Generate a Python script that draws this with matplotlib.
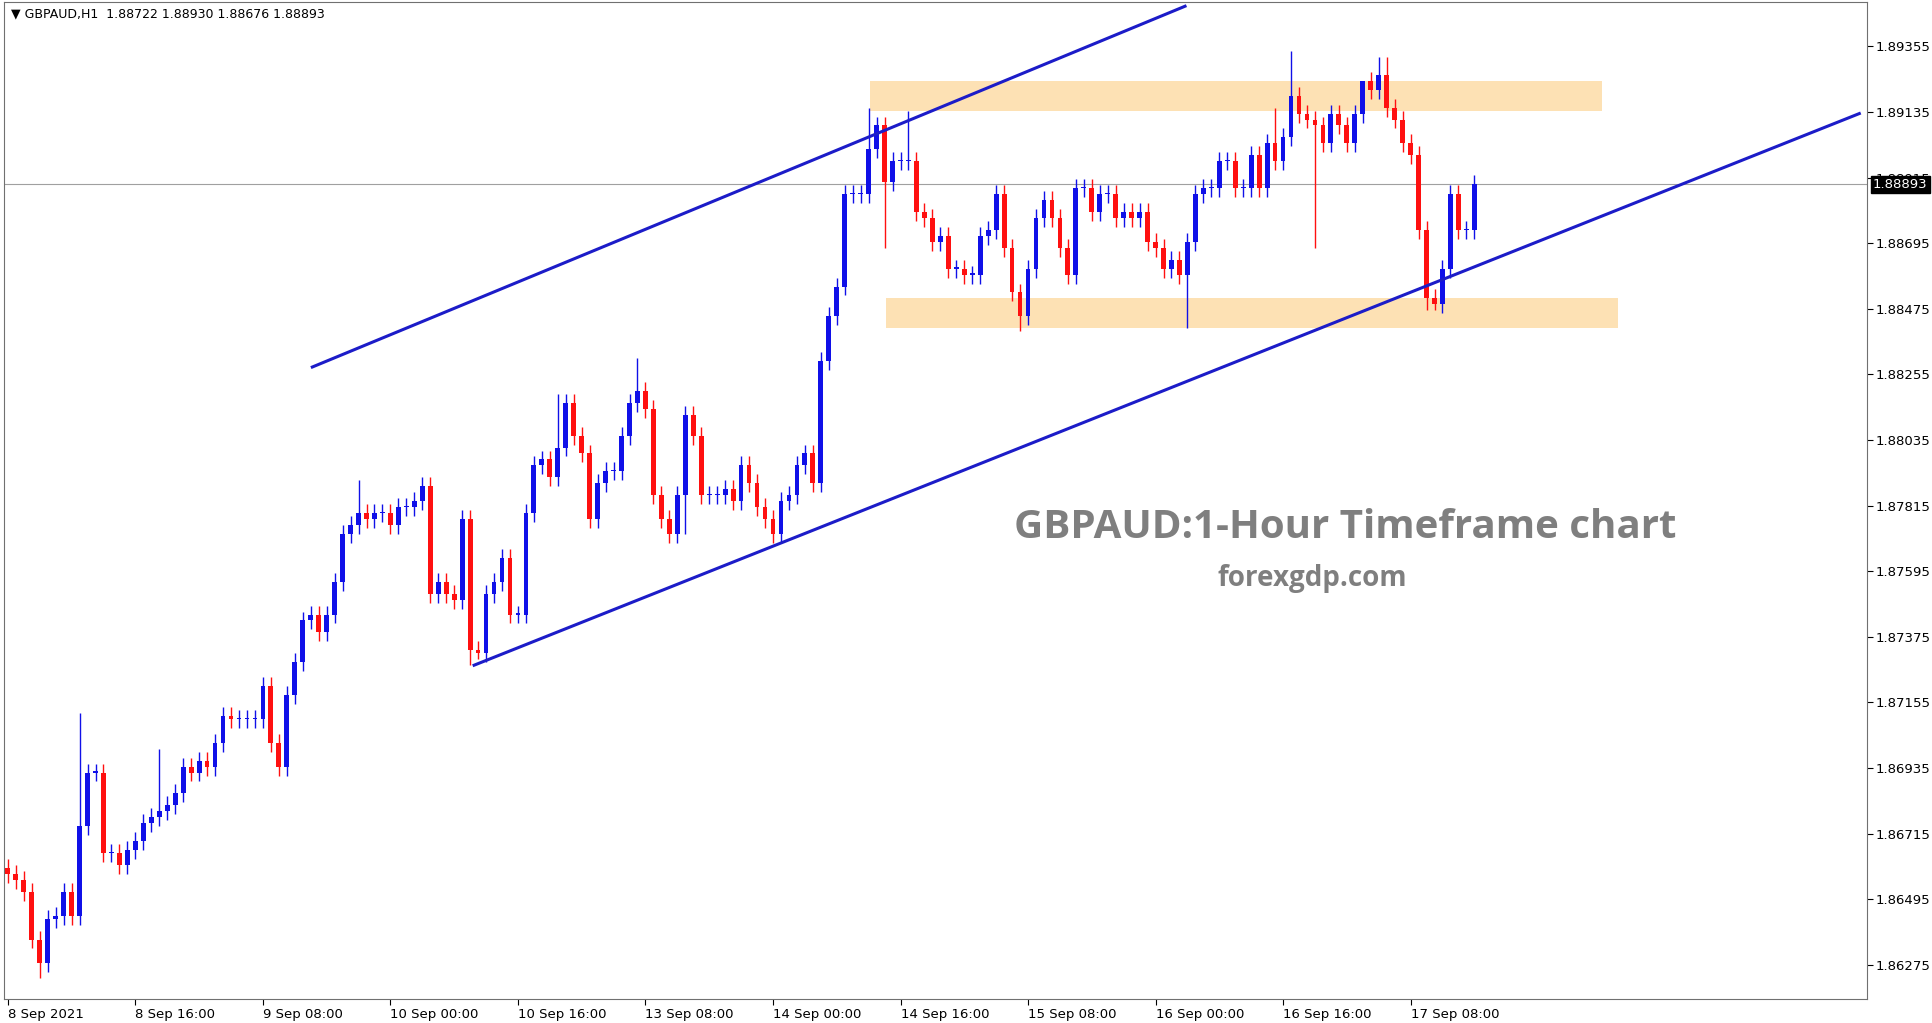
import matplotlib
matplotlib.use("Agg")
import matplotlib.pyplot as plt
from matplotlib.patches import Rectangle

closes = [1.8658,1.8656,1.8652,1.8636,1.8628,1.8643,1.8644,1.8652,1.8644,1.8674,
 1.8692,1.8692,1.8665,1.8665,1.8661,1.8666,1.8669,1.8675,1.8677,1.8679,
 1.8681,1.8685,1.8694,1.8692,1.8696,1.8694,1.8702,1.8711,1.8710,1.8710,
 1.8710,1.8710,1.8721,1.8702,1.8694,1.8718,1.8729,1.8743,1.8745,1.8739,
 1.8745,1.8756,1.8772,1.8775,1.8779,1.8777,1.8779,1.8779,1.8775,1.8781,
 1.8781,1.8783,1.8788,1.8752,1.8756,1.8752,1.8750,1.8777,1.8733,1.8732,
 1.8752,1.8756,1.8764,1.8745,1.8745,1.8779,1.8795,1.8797,1.8791,1.8801,
 1.8816,1.8805,1.8799,1.8777,1.8789,1.8793,1.8793,1.8805,1.8816,1.8820,
 1.8814,1.8785,1.8777,1.8772,1.8785,1.8812,1.8805,1.8785,1.8785,1.8785,
 1.8787,1.8783,1.8795,1.8789,1.8781,1.8777,1.8772,1.8783,1.8785,1.8795,
 1.8799,1.8789,1.8830,1.8845,1.8855,1.8886,1.8886,1.8886,1.8901,1.8909,
 1.8890,1.8897,1.8897,1.8897,1.8880,1.8878,1.8870,1.8872,1.8861,1.8861,
 1.8859,1.8859,1.8872,1.8874,1.8886,1.8868,1.8853,1.8845,1.8861,1.8878,
 1.8884,1.8878,1.8868,1.8859,1.8888,1.8888,1.8880,1.8886,1.8886,1.8878,
 1.8880,1.8878,1.8880,1.8870,1.8868,1.8861,1.8864,1.8859,1.8870,1.8886,
 1.8888,1.8888,1.8897,1.8897,1.8888,1.8888,1.8899,1.8888,1.8903,1.8897,
 1.8905,1.8919,1.8913,1.8911,1.8909,1.8903,1.8913,1.8909,1.8903,1.8913,
 1.8924,1.8921,1.8926,1.8915,1.8911,1.8903,1.8899,1.8874,1.8851,1.8849,
 1.8861,1.8886,1.8874,1.8874,1.88893]
spikes = {9: 1.8712, 19: 1.8700, 44: 1.8790, 69: 1.8819, 79: 1.8831, 108: 1.8915,
          113: 1.8914, 159: 1.8915, 161: 1.8934, 170: 1.8917, 172: 1.8932, 173: 1.8932}
dips = {4: 1.8623, 58: 1.8728, 59: 1.8730, 85: 1.8772, 110: 1.8868, 127: 1.8840,
        148: 1.8841, 164: 1.8868, 178: 1.8847, 179: 1.8847}
xlabels = ["8 Sep 2021","8 Sep 16:00","9 Sep 08:00","10 Sep 00:00","10 Sep 16:00",
           "13 Sep 08:00","14 Sep 00:00","14 Sep 16:00","15 Sep 08:00","16 Sep 00:00",
           "16 Sep 16:00","17 Sep 08:00"]
yticks = [1.89355,1.89135,1.88915,1.88695,1.88475,1.88255,1.88035,1.87815,1.87595,
          1.87375,1.87155,1.86935,1.86715,1.86495,1.86275]
upper_line = ([38.2, 147.7], [1.8828, 1.8949])
lower_line = ([58.5, 232.3], [1.8728, 1.8913])
top_zone = (108.2, 200.0, 1.8914, 1.8924)
bot_zone = (110.2, 202.0, 1.8841, 1.8851)
last_price = 1.88893

fig = plt.figure(figsize=(19.33, 10.23), dpi=100)
ax = fig.add_axes([0.002, 0.023, 0.964, 0.975])
ax.set_xlim(-0.5, 233.3)
ax.set_ylim(1.86159, 1.89504)

for z in (top_zone, bot_zone):
    ax.add_patch(Rectangle((z[0], z[2]), z[1]-z[0], z[3]-z[2], color="#fde1b4", zorder=1, lw=0))

prev = closes[0] + 0.0002
for i, c in enumerate(closes):
    o = prev
    hi = spikes.get(i, max(o, c) + 0.0003)
    lo = dips.get(i, min(o, c) - 0.0003)
    col = "#1010e8" if c >= o else "#ff1010"
    ax.vlines(i, lo, hi, color=col, lw=1, zorder=2)
    ax.add_patch(Rectangle((i-0.3, min(o, c)), 0.6, max(abs(c-o), 0.00004), color=col, zorder=3, lw=0))
    prev = c

ax.plot(*upper_line, color="#1c1cc8", lw=2.2, zorder=4)
ax.plot(*lower_line, color="#1c1cc8", lw=2.2, zorder=4)
ax.axhline(last_price, color="#a0a0a0", lw=0.8, zorder=1)

ax.yaxis.tick_right()
ax.set_yticks(yticks)
ax.set_yticklabels([f"{v:.5f}" for v in yticks], fontsize=9.5)
ax.set_xticks([16*k for k in range(len(xlabels))])
ax.set_xticklabels(xlabels, fontsize=9.5, ha="left")
ax.tick_params(direction="out", length=4, pad=2)
for s in ax.spines.values():
    s.set_color("#707070")
ax.text(1.003, last_price, f"{last_price:.5f}", transform=ax.get_yaxis_transform(),
        fontsize=9.5, color="white", va="center", ha="left", zorder=10,
        bbox=dict(facecolor="black", edgecolor="black", pad=1.5))
ax.text(0.004, 0.995, "\u25bc GBPAUD,H1  1.88722 1.88930 1.88676 1.88893", transform=ax.transAxes,
        fontsize=9, va="top", ha="left")
ax.text(0.72, 0.473, "GBPAUD:1-Hour Timeframe chart", transform=ax.transAxes,
        fontsize=29, fontweight="bold", color="#7f7f7f", ha="center", va="center", family="Open Sans")
ax.text(0.702, 0.422, "forexgdp.com", transform=ax.transAxes,
        fontsize=20, fontweight="bold", color="#7f7f7f", ha="center", va="center", family="Open Sans")
fig.savefig("out.png", dpi=100)
